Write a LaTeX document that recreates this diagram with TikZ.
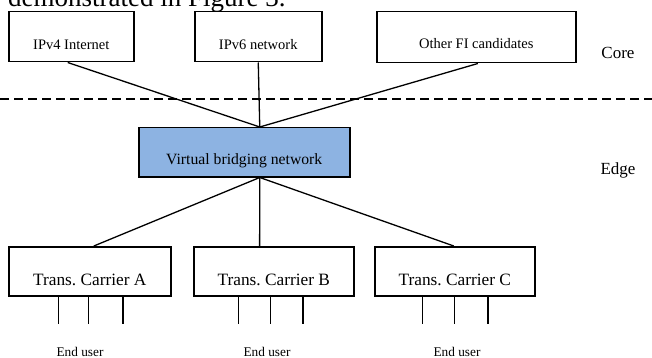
\documentclass[tikz,border=0pt]{standalone}
\usepackage{fontspec}
\setmainfont{Liberation Serif}
\usetikzlibrary{calc}
\definecolor{vbblue}{RGB}{141,179,226}
\newcommand{\fs}[1]{\fontsize{#1}{#1}\selectfont}
\newcommand{\lowered}[2]{\raisebox{-#1pt}[0pt][0pt]{#2}}
\frenchspacing
\tikzset{
  box/.style={draw=black, line width=1.5pt, rectangle, inner sep=0pt, anchor=north west},
  conn/.style={draw=black, line width=1.3pt},
  lbl/.style={inner sep=0pt, anchor=base},
}
\begin{document}
\begin{tikzpicture}[x=1pt,y=-1pt]
\useasboundingbox (0,0) rectangle (652,358);
\begin{scope}
\clip (0,0) rectangle (652,358);
\node[inner sep=0pt, anchor=base west, font=\fs{27}] (head) at (8,7) {demonstrated in Figure 3.};
\end{scope}
% top boxes
\node[box, minimum width=125pt, minimum height=50pt, font=\fs{14.5}] (ipv4) at (8,11) {\lowered{13}{IPv4 Internet}};
\node[box, minimum width=127pt, minimum height=50pt, font=\fs{14.5}] (ipv6) at (194,11) {\lowered{13}{IPv6 network}};
\node[box, minimum width=199pt, minimum height=51pt, font=\fs{14.5}] (other) at (376,11) {\lowered{11}{Other FI candidates}};
\node[lbl, font=\fs{17}] (core) at (618,59) {Core};
% dashed separator
\coordinate (dl) at (0,99);
\coordinate (dr) at (652,99);
\draw[line width=1.3pt, dash pattern=on 9pt off 5pt] (dl) -- (dr);
% virtual bridging network
\node[box, fill=vbblue, minimum width=211pt, minimum height=49pt, font=\fs{15.7}] (vbn) at (138,127) {\lowered{12.5}{Virtual bridging network}};
\node[lbl, font=\fs{17}] (edge) at (618,175) {Edge};
% carriers
\node[box, minimum width=162pt, minimum height=49pt, font=\fs{17.3}] (ca) at (8,246) {\lowered{14.5}{Trans. Carrier A}};
\node[box, minimum width=160pt, minimum height=49pt, font=\fs{17.3}] (cb) at (193,246) {\lowered{14.5}{Trans. Carrier B}};
\node[box, minimum width=160pt, minimum height=49pt, font=\fs{17.3}] (cc) at (374,246) {\lowered{14.5}{Trans. Carrier C}};
% end users
\node[lbl, font=\fs{13.3}] (ua) at (80,356) {End user};
\node[lbl, font=\fs{13.3}] (ub) at (267,356) {End user};
\node[lbl, font=\fs{13.3}] (uc) at (457,356) {End user};
% connectors core -> vbn
\coordinate (jt) at ($(vbn.north west)!0.573!(vbn.north east)$);
\coordinate (jb) at ($(vbn.south west)!0.573!(vbn.south east)$);
\draw[conn] ($(ipv4.south west)!0.472!(ipv4.south east)$) -- (jt);
\draw[conn] (ipv6.south) -- (jt);
\draw[conn] ($(other.south west)!0.508!(other.south east)$) -- (jt);
% vbn -> carriers
\draw[conn] (jb) -- ($(ca.north west)!0.525!(ca.north east)$);
\draw[conn] (jb) -- ($(cb.north west)!0.4125!(cb.north east)$);
\draw[conn] (jb) -- ($(cc.north west)!0.494!(cc.north east)$);
% legs
\foreach \n/\f in {ca/0.309, ca/0.494, ca/0.704, cb/0.281, cb/0.481, cb/0.681, cc/0.3, cc/0.5, cc/0.706}{
  \draw[conn] ($(\n.south west)!\f!(\n.south east)$) -- ++(0,27);
}
\end{tikzpicture}
\end{document}
